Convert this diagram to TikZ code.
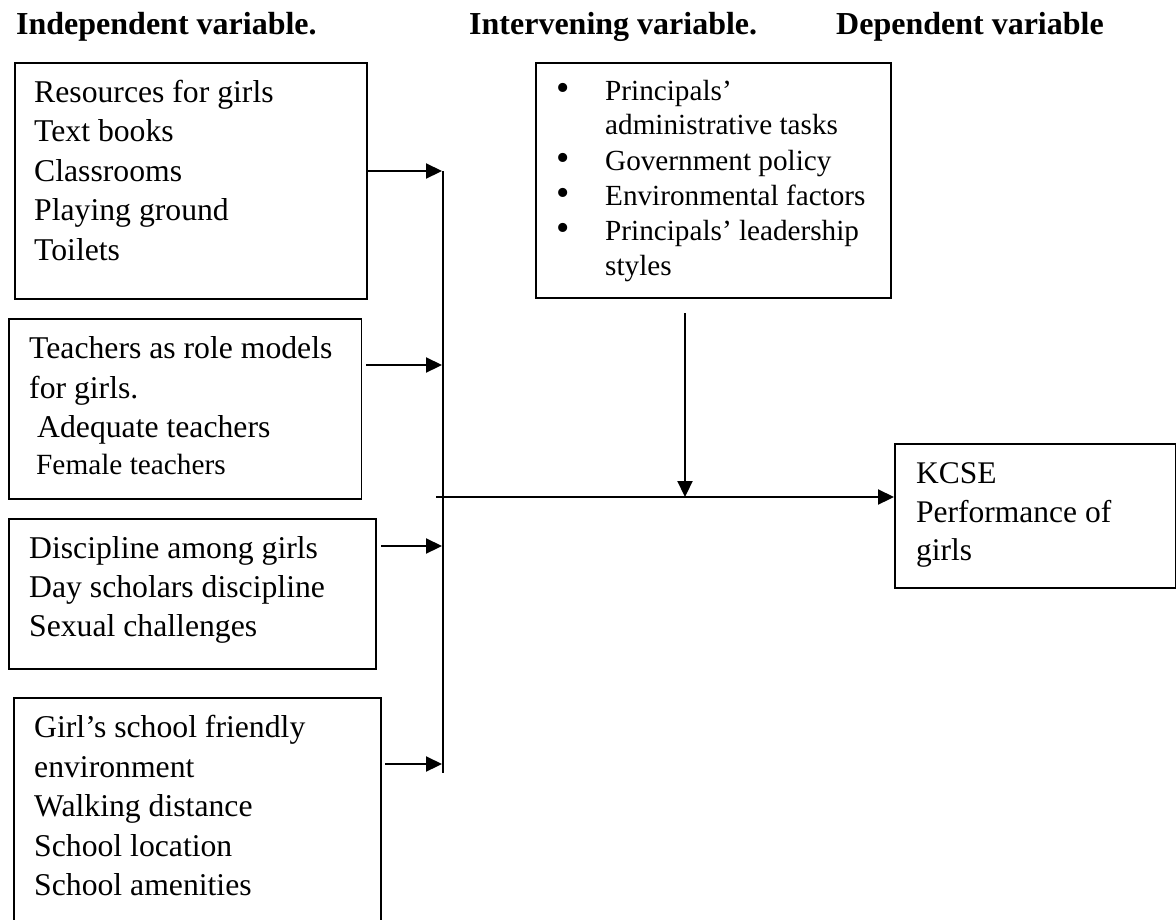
\documentclass[tikz,border=0pt]{standalone}
\usepackage{fontspec}
\setmainfont{Liberation Serif}
\usetikzlibrary{arrows.meta}
\tikzset{
  box/.style={draw, line width=1.6pt, inner sep=0pt, anchor=north west},
  txt/.style={font=\fontsize{31.7}{39.5}\selectfont, inner sep=0pt, anchor=base west},
  smalltxt/.style={font=\fontsize{29.3}{35}\selectfont, inner sep=0pt, anchor=base west},
  ivtxt/.style={font=\fontsize{29.2}{35}\selectfont, inner sep=0pt, anchor=base west},
  bul/.style={font=\fontsize{38}{40}\selectfont, inner sep=0pt, anchor=center},
  head/.style={font=\fontsize{32}{38}\selectfont\bfseries, inner sep=0pt, anchor=base west},
  arr/.style={-{Triangle[length=16pt,width=15pt]}, line width=2.2pt},
  bar/.style={line width=1.6pt}
}
\begin{document}
\begin{tikzpicture}[x=1pt,y=-1pt]
\useasboundingbox (0,0) rectangle (1176,919);
\clip (0,0) rectangle (1176,919);
% headers
\node[head] (h1) at (16,34) {Independent variable.};
\node[head] (h2) at (469,34) {Intervening variable.};
\node[head] (h3) at (836,34) {Dependent variable};
% boxes
\node[box, minimum width=352pt, minimum height=236pt] (b1) at (14,62) {};
\node[box, minimum width=352.5pt, minimum height=180pt] (b2) at (8,318) {};
\node[box, minimum width=367pt, minimum height=150pt] (b3) at (8,518) {};
\node[box, minimum width=367pt, minimum height=250pt] (b4) at (13,697) {};
\node[box, minimum width=355pt, minimum height=235pt] (iv) at (535,62) {};
\node[box, minimum width=281pt, minimum height=144pt] (dv) at (894,443) {};
% box 1 text
\foreach \t/\y [count=\i] in {Resources for girls/102, Text books/141.5, Classrooms/181, Playing ground/220.5, Toilets/260}
  \node[txt] (ra\i) at (34,\y) {\t};
% box 2 text
\node[txt] (ta1) at (29,358) {Teachers as role models};
\node[txt] (ta2) at (29,398) {for girls.};
\node[txt] (ta3) at (37,437) {Adequate teachers};
\node[smalltxt] (ta4) at (36,474) {Female teachers};
% box 3 text
\foreach \t/\y [count=\i] in {Discipline among girls/558, Day scholars discipline/597, Sexual challenges/636}
  \node[txt] (da\i) at (29,\y) {\t};
% box 4 text
\foreach \t/\y [count=\i] in {Girl’s school friendly/737, environment/777, Walking distance/816.5, School location/856, School amenities/895}
  \node[txt] (ga\i) at (34,\y) {\t};
% intervening text
\foreach \t/\y [count=\i] in {Principals’/100, administrative tasks/134, Government policy/170, Environmental factors/205, Principals’ leadership/240, styles/275}
  \node[ivtxt] (ia\i) at (605,\y) {\t};
\foreach \y [count=\i] in {100,170,205,240}
  \node[bul] (bu\i) at (563,\y-8.5) {\textbullet};
% dependent text
\foreach \t/\y [count=\i] in {KCSE/483, Performance of/522, girls/560}
  \node[txt, font=\fontsize{31.5}{39}\selectfont] (ka\i) at (916,\y) {\t};
% connector coordinates
\coordinate (s1) at (366,171);  \coordinate (e1) at (442,171);
\coordinate (s2) at (366,365);  \coordinate (e2) at (442,365);
\coordinate (s3) at (381,546);  \coordinate (e3) at (442,546);
\coordinate (s4) at (385,764);  \coordinate (e4) at (442,764);
\coordinate (vtop) at (443,171); \coordinate (vbot) at (443,773);
\coordinate (m0) at (436,497);
\coordinate (d0) at (685,313); \coordinate (d1) at (685,497);
% connectors
\draw[bar] (vtop) -- (vbot);
\draw[arr] (s1) -- (e1);
\draw[arr] (s2) -- (e2);
\draw[arr] (s3) -- (e3);
\draw[arr] (s4) -- (e4);
\draw[arr] (m0) -- (dv.west |- m0);
\draw[arr] (d0) -- (d1);
\end{tikzpicture}
\end{document}
